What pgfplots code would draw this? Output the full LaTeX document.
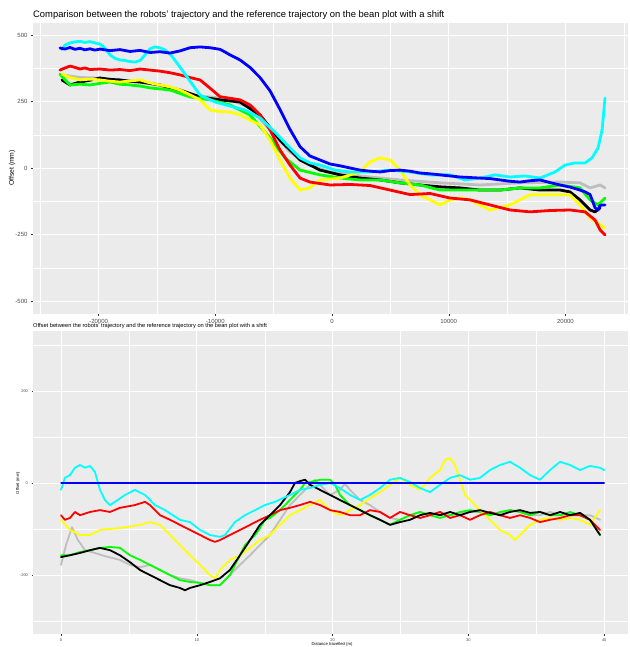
\documentclass[border=0pt]{standalone}
\usepackage{fontspec}
\setmainfont{Liberation Sans}
\usepackage{pgfplots}
\pgfplotsset{compat=1.18}

\definecolor{ggbg}{HTML}{EBEBEB}
\definecolor{ggtext}{HTML}{4D4D4D}
\definecolor{ggtick}{HTML}{333333}
\definecolor{gggrey}{HTML}{BEBEBE}
\definecolor{ggcyan}{HTML}{00FFFF}
\definecolor{ggblue}{HTML}{0000FF}
\definecolor{ggred}{HTML}{FF0000}
\definecolor{ggyellow}{HTML}{FFFF00}
\definecolor{gggreen}{HTML}{00FF00}

\pgfplotsset{
  ggpanel/.style={
    scale only axis, width=595pt,
    axis background/.style={fill=ggbg},
    axis line style={draw=none},
    grid=both,
    major grid style={white, line width=0.7pt},
    minor grid style={white, line width=0.35pt},
    tick align=outside, tick pos=left,
    major tick length=2pt, minor tick length=0pt,
    tick style={ggtick, line width=0.4pt},
    tick label style={text=ggtext},
    scaled ticks=false,
    /pgf/number format/.cd, 1000 sep={}, assume math mode=true,
    /pgfplots/.cd,
    every axis plot/.append style={line join=round, line cap=round},
  },
}

\begin{document}
\begin{tikzpicture}
\path[use as bounding box, fill=white] (0,0) rectangle (629pt,647pt);

% top panel: trajectories
\begin{axis}[ggpanel, at={(33pt,333pt)}, anchor=south west, height=291pt,
  xmin=-25620, xmax=25360, ymin=-549, ymax=545,
  xtick={-20000,-10000,0,10000,20000},
  minor xtick={-25000,-15000,-5000,5000,15000,25000},
  ytick={-500,-250,0,250,500}, minor ytick={-375,-125,125,375},
  tick label style={font=\fontsize{6}{7}\selectfont},
  every axis plot/.append style={line width=2.8pt}]

% grey
\addplot[gggrey] coordinates {
(-23140,350) (-21590,340) (-19880,338) (-18170,330) (-16450,323) (-14740,310)
(-13030,286) (-11310,270) (-9600,263) (-8310,250) (-7030,226) (-5310,143)
(-3600,60) (-1890,11) (-170,-15) (2400,-30) (5830,-45) (9260,-56) (12680,-64)
(16110,-56) (19540,-53) (21250,-56) (22110,-75) (22970,-64) (23390,-75)};

% black
\addplot[black] coordinates {
(-23140,331) (-22450,312) (-21590,323) (-20740,330) (-19880,338) (-19020,333)
(-18170,331) (-17310,326) (-16450,323) (-15600,318) (-14740,312) (-13880,301)
(-13030,293) (-12170,280) (-11310,267) (-9600,256) (-7880,248) (-6170,199)
(-4460,105) (-2740,30) (-1030,-8) (690,-26) (2400,-38) (4110,-45) (5830,-56)
(7540,-64) (9260,-71) (10970,-75) (12680,-83) (14400,-83) (16110,-75)
(17820,-83) (19540,-83) (20390,-90) (21250,-120) (22110,-158) (22540,-165)
(22970,-150)};

% green
\addplot[gggreen] coordinates {
(-23310,353) (-22880,331) (-22450,312) (-21590,315) (-20740,312) (-19880,318)
(-19020,323) (-18170,315) (-17310,312) (-16450,308) (-15600,301) (-14740,297)
(-13880,293) (-12170,267) (-10450,256) (-8740,237) (-7030,199) (-5310,113)
(-4030,38) (-2740,-8) (-1030,-26) (690,-38) (2400,-45) (4110,-45) (5830,-56)
(7540,-64) (9260,-83) (10970,-83) (12680,-83) (14400,-83) (16110,-75)
(17820,-75) (19540,-64) (21250,-75) (22110,-120) (22790,-139) (23390,-113)};

% yellow
\addplot[ggyellow] coordinates {
(-23140,353) (-22450,340) (-21590,331) (-20740,334) (-19880,331) (-19020,326)
(-18170,323) (-17310,327) (-16450,331) (-15600,320) (-14740,312) (-13880,305)
(-13030,293) (-12170,275) (-11310,256) (-10450,218) (-9600,212) (-8740,210)
(-7880,200) (-7030,180) (-6170,162) (-5310,105) (-4460,30) (-3600,-38)
(-2740,-83) (-1890,-75) (-1030,-45) (690,-38) (2400,-15) (3260,23) (4110,38)
(4970,30) (5830,-8) (6680,-64) (7540,-101) (8400,-120) (9260,-139)
(10110,-120) (10970,-113) (11830,-120) (13540,-158) (15250,-139) (16970,-101)
(18680,-101) (20390,-101) (21250,-139) (22110,-188) (22970,-214) (23390,-226)};

% red
\addplot[ggred] coordinates {
(-23310,368) (-22880,376) (-22450,383) (-22020,378) (-21590,372) (-21170,376)
(-20740,370) (-19880,372) (-19020,368) (-18170,370) (-17310,366) (-16450,372)
(-15600,368) (-14740,364) (-13880,358) (-13030,350) (-12170,340) (-11310,331)
(-10450,300) (-9600,268) (-8740,262) (-7880,256) (-7030,237) (-6170,200)
(-5310,143) (-4460,68) (-3600,11) (-2740,-38) (-1890,-53) (-170,-64)
(1540,-62) (3260,-66) (4970,-83) (6680,-100) (8400,-96) (10110,-113)
(11830,-120) (13540,-139) (15250,-158) (16970,-165) (18680,-160) (20390,-158)
(21680,-165) (22540,-196) (22970,-233) (23390,-252)};

% cyan
\addplot[ggcyan] coordinates {
(-23140,445) (-22880,462) (-22450,470) (-22020,474) (-21590,476) (-21170,472)
(-20740,475) (-20310,470) (-19880,466) (-19450,450) (-19020,425) (-18600,412)
(-18170,406) (-17740,404) (-17310,400) (-16880,398) (-16450,404) (-16020,425)
(-15600,448) (-15170,455) (-14740,452) (-14310,444) (-13710,420) (-12600,353)
(-11310,274) (-10030,248) (-8740,233) (-7460,218) (-6170,188) (-4890,135)
(-3600,75) (-2740,38) (-1890,19) (-1030,11) (260,-8) (1540,-15) (3260,-15)
(4970,-8) (6680,-15) (8400,-26) (10110,-26) (11400,-45) (12680,-38)
(13970,-26) (15250,-34) (16540,-30) (17820,-38) (19110,-15) (19970,11)
(20820,19) (21680,19) (22280,38) (22790,75) (23140,143) (23390,263)};

% blue
\addplot[ggblue] coordinates {
(-23310,451) (-22880,447) (-22450,453) (-22020,446) (-21590,450) (-21170,444)
(-20740,448) (-20310,443) (-19880,447) (-19020,441) (-18170,445) (-17310,438)
(-16450,442) (-15600,434) (-14740,437) (-13880,432) (-13030,440) (-12170,452)
(-11310,455) (-10450,452) (-9600,446) (-9170,436) (-8740,425) (-7880,406)
(-7030,378) (-6170,340) (-5310,290) (-4460,220) (-3600,145) (-2740,80)
(-1890,45) (-1030,30) (-170,15) (690,8) (1540,0) (2400,-8) (3260,-12)
(4110,-15) (4970,-10) (5830,-8) (6680,-12) (7540,-19) (8400,-22) (9260,-26)
(10110,-30) (10970,-34) (11830,-36) (12680,-38) (13540,-40) (14400,-45)
(15250,-50) (16110,-53) (16970,-48) (17820,-45) (18680,-55) (19540,-64)
(20390,-72) (21250,-83) (21680,-90) (22110,-100) (22540,-150) (22790,-158)
(22970,-140) (23390,-139)};
\end{axis}

% bottom panel: offsets
\begin{axis}[ggpanel, at={(33pt,13pt)}, anchor=south west, height=303pt,
  xmin=-2.06, xmax=41.75, ymin=-328, ymax=330,
  xtick={0,10,20,30,40}, minor xtick={5,15,25,35},
  ytick={-200,0,200}, minor ytick={-300,-100,100,300},
  major tick length=1.5pt,
  tick label style={font=\fontsize{4}{5}\selectfont},
  every axis plot/.append style={line width=1.8pt}]

% grey
\addplot[gggrey] coordinates {
(0,-178) (0.37,-135) (0.81,-96) (1.25,-124) (1.77,-146) (2.50,-152)
(3.24,-159) (4.34,-167) (5.08,-178) (5.82,-183) (6.55,-178) (7.29,-189)
(8.03,-200) (8.76,-207) (9.50,-211) (10.24,-217) (10.97,-222) (11.71,-222)
(12.44,-200) (13.18,-178) (13.92,-157) (14.65,-135) (15.39,-113) (16.13,-80)
(16.86,-48) (17.60,-26) (18.34,-4) (18.70,7) (19.07,-4) (19.81,-26)
(20.54,-15) (20.91,-2) (21.28,-15) (22.02,-37) (22.75,-48) (23.49,-63)
(24.23,-76) (24.96,-80) (25.70,-70) (26.44,-63) (27.17,-70) (27.91,-63)
(28.65,-70) (29.38,-65) (30.12,-63) (30.85,-63) (31.59,-70) (32.33,-65)
(33.06,-59) (33.80,-63) (34.54,-70) (35.27,-70) (36.01,-63) (36.75,-70)
(37.48,-65) (38.22,-70) (38.95,-70) (39.69,-80)};

% green
\addplot[gggreen] coordinates {
(0,-157) (0.66,-157) (1.40,-150) (2.14,-146) (2.87,-141) (3.61,-139)
(4.34,-141) (5.08,-157) (5.82,-167) (6.55,-178) (7.29,-189) (8.03,-200)
(8.76,-211) (9.50,-215) (10.24,-217) (10.97,-222) (11.71,-222) (12.08,-211)
(12.44,-200) (12.81,-178) (13.18,-157) (13.55,-135) (13.92,-124) (14.29,-113)
(14.65,-98) (15.02,-80) (15.39,-76) (16.13,-59) (16.86,-37) (17.60,-15)
(17.97,0) (18.34,2) (19.07,7) (19.81,7) (20.18,-4) (20.54,-26) (21.28,-48)
(22.02,-59) (22.75,-70) (23.49,-80) (24.23,-91) (24.96,-80) (25.70,-70)
(26.44,-63) (27.17,-70) (27.91,-76) (28.65,-70) (29.38,-63) (30.12,-59)
(30.85,-63) (31.59,-70) (32.33,-63) (33.06,-59) (33.80,-63) (34.54,-70)
(35.27,-63) (36.01,-70) (36.75,-70) (37.48,-63) (38.22,-70) (38.95,-80)
(39.69,-113)};

% yellow
\addplot[ggyellow] coordinates {
(0,-80) (0.66,-102) (1.40,-113) (2.14,-113) (2.87,-102) (4.34,-98)
(5.82,-91) (6.55,-85) (7.29,-91) (8.03,-113) (8.76,-135) (9.50,-157)
(10.24,-178) (10.97,-200) (11.34,-207) (11.71,-189) (12.44,-167) (13.18,-157)
(13.92,-141) (14.65,-124) (15.39,-113) (16.13,-91) (16.86,-70) (17.60,-59)
(18.34,-48) (19.07,-37) (19.81,-59) (20.54,-70) (21.28,-59) (22.02,-48)
(22.75,-33) (23.49,-20) (24.23,-4) (24.96,11) (25.70,-4) (26.44,-15)
(27.17,11) (27.91,28) (28.28,50) (28.65,54) (29.01,39) (29.38,7) (29.75,-26)
(30.12,-37) (30.85,-59) (31.59,-80) (32.33,-102) (33.06,-113) (33.43,-124)
(33.80,-113) (34.54,-91) (35.27,-80) (36.01,-76) (36.75,-80) (37.48,-76)
(38.22,-80) (38.95,-91) (39.69,-59)};

% red
\addplot[ggred] coordinates {
(0,-70) (0.29,-80) (0.66,-76) (1.03,-63) (1.40,-70) (2.14,-63) (2.87,-59)
(3.61,-63) (4.34,-54) (5.45,-48) (6.19,-41) (6.55,-48) (7.29,-70) (8.03,-80)
(8.76,-91) (9.50,-102) (10.24,-113) (10.97,-124) (11.34,-128) (11.71,-124)
(12.44,-113) (13.18,-102) (13.92,-91) (14.65,-80) (15.39,-70) (16.13,-59)
(16.86,-54) (17.60,-48) (18.34,-41) (19.07,-48) (19.81,-59) (20.54,-63)
(21.28,-70) (22.02,-70) (22.75,-59) (23.49,-63) (24.23,-76) (24.96,-63)
(25.70,-70) (26.44,-76) (27.17,-70) (27.91,-63) (28.65,-76) (29.38,-70)
(30.12,-80) (30.85,-70) (31.59,-63) (32.33,-70) (33.06,-76) (33.80,-70)
(34.54,-76) (35.27,-85) (36.01,-80) (36.75,-76) (37.48,-70) (38.22,-70)
(38.95,-80) (39.69,-102)};

% black
\addplot[black] coordinates {
(0,-161) (0.66,-157) (1.40,-152) (2.14,-146) (2.87,-141) (3.61,-146)
(4.34,-157) (5.08,-172) (5.82,-189) (6.55,-200) (7.29,-211) (8.03,-222)
(8.76,-228) (9.13,-233) (9.50,-228) (10.24,-222) (10.97,-215) (11.71,-207)
(12.44,-189) (13.18,-157) (13.92,-124) (14.65,-91) (15.39,-70) (16.13,-48)
(16.86,-20) (17.23,0) (17.60,4) (17.97,7) (18.34,-4) (19.07,-15) (19.81,-26)
(20.54,-37) (21.28,-48) (22.02,-59) (22.75,-70) (23.49,-80) (24.23,-91)
(24.96,-85) (25.70,-80) (26.44,-70) (27.17,-65) (27.91,-70) (28.65,-63)
(29.38,-70) (30.12,-63) (30.85,-59) (31.59,-65) (32.33,-70) (33.06,-63)
(33.80,-59) (34.54,-65) (35.27,-63) (36.01,-70) (36.75,-63) (37.48,-70)
(38.22,-65) (38.95,-80) (39.69,-113)};

% cyan
\addplot[ggcyan] coordinates {
(0,-15) (0.29,11) (0.66,17) (1.03,33) (1.40,39) (1.77,33) (2.14,37) (2.50,24)
(2.87,-15) (3.24,-37) (3.61,-48) (3.98,-41) (4.71,-26) (5.45,-15) (6.19,-26)
(6.92,-48) (7.66,-59) (8.76,-80) (9.50,-85) (10.24,-102) (10.97,-113)
(11.71,-117) (12.08,-113) (12.81,-85) (13.55,-70) (14.29,-59) (15.02,-48)
(15.76,-41) (16.86,-26) (17.60,-15) (18.34,-11) (19.07,-4) (19.81,0)
(20.54,-11) (21.28,-26) (22.02,-37) (22.75,-26) (23.49,-11) (24.23,7)
(24.96,11) (25.70,2) (26.44,-11) (27.17,-20) (27.91,-4) (28.65,11) (29.38,17)
(30.12,7) (30.85,11) (31.59,28) (32.33,39) (33.06,46) (33.80,33) (34.54,17)
(35.27,7) (36.01,28) (36.75,46) (37.48,39) (38.22,28) (38.95,37) (39.69,33)
(40,28)};

% zero reference
\addplot[draw=ggblue, line width=1.1pt] coordinates {(0,0) (40,0)};
\end{axis}

% titles and axis labels
\node[anchor=west, inner sep=0pt, font=\fontsize{9.4}{11}\selectfont] at (33pt,632pt)
  {Comparison between the robots' trajectory and the reference trajectory on the bean plot with a shift};
\node[rotate=90, inner sep=0pt, font=\fontsize{6.8}{8}\selectfont] at (12pt,479pt) {Offset (mm)};
\node[anchor=west, inner sep=0pt, font=\fontsize{5.7}{7}\selectfont] at (33pt,320.5pt)
  {Offset between the robots' trajectory and the reference trajectory on the bean plot with a shift};
\node[rotate=90, inner sep=0pt, font=\fontsize{4.2}{5}\selectfont] at (18pt,164pt) {Offset (mm)};
\node[inner sep=0pt, font=\fontsize{4.2}{5}\selectfont] at (332pt,2.5pt) {Distance travelled (m)};
\end{tikzpicture}
\end{document}
